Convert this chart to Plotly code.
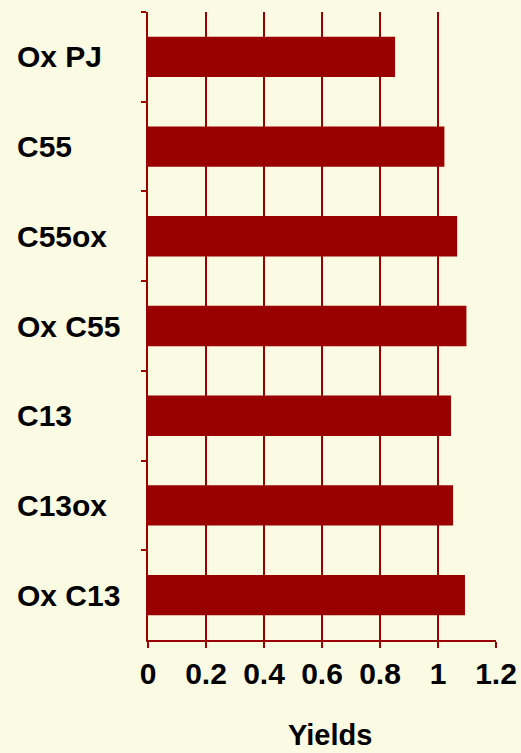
import plotly.graph_objects as go

# Yield per sample
samples = ["Ox PJ", "C55", "C55ox", "Ox C55", "C13", "C13ox", "Ox C13"]
yields = [0.852, 1.022, 1.066, 1.098, 1.045, 1.052, 1.093]
x_ticks = [0, 0.2, 0.4, 0.6, 0.8, 1, 1.2]
x_tick_labels = ["0", "0.2", "0.4", "0.6", "0.8", "1", "1.2"]

BG = "#FBFAE3"
RED = "#990000"
FONT = "Liberation Sans, Arial, sans-serif"

fig = go.Figure(
    go.Bar(
        x=yields,
        y=samples,
        orientation="h",
        marker=dict(color=RED, line=dict(width=0)),
        width=0.45,
    )
)

# Left-aligned sample names next to each bar
for s in samples:
    fig.add_annotation(
        x=-0.382, xref="paper", y=s, yref="y",
        text=s, showarrow=False, xanchor="left", yanchor="middle",
        font=dict(family=FONT, size=30, color="black", weight="bold"),
    )

fig.add_annotation(
    x=0.523, xref="paper", y=-0.152, yref="paper",
    text="Yields", showarrow=False, xanchor="center", yanchor="middle",
    font=dict(family=FONT, size=29, color="black", weight="bold"),
)

fig.update_layout(
    width=521, height=753,
    margin=dict(l=148, r=25, t=12, b=113),
    paper_bgcolor=BG, plot_bgcolor=BG,
    showlegend=False,
    bargap=0.55,
)

fig.update_xaxes(
    range=[0, 1.2],
    tickvals=x_ticks, ticktext=x_tick_labels,
    showgrid=True, gridcolor=RED, gridwidth=2,
    showline=True, linecolor=RED, linewidth=2,
    ticks="outside", ticklen=6, tickwidth=2, tickcolor=RED,
    tickfont=dict(family=FONT, size=30, color="black", weight="bold"),
    zeroline=False,
    automargin=False,
)

fig.update_yaxes(
    autorange="reversed",
    showticklabels=False,
    showgrid=False,
    showline=True, linecolor=RED, linewidth=2,
    ticks="outside", ticklen=5, tickwidth=2, tickcolor=RED,
    tickson="boundaries",
    zeroline=False,
    automargin=False,
)

fig.write_html("out.html")
